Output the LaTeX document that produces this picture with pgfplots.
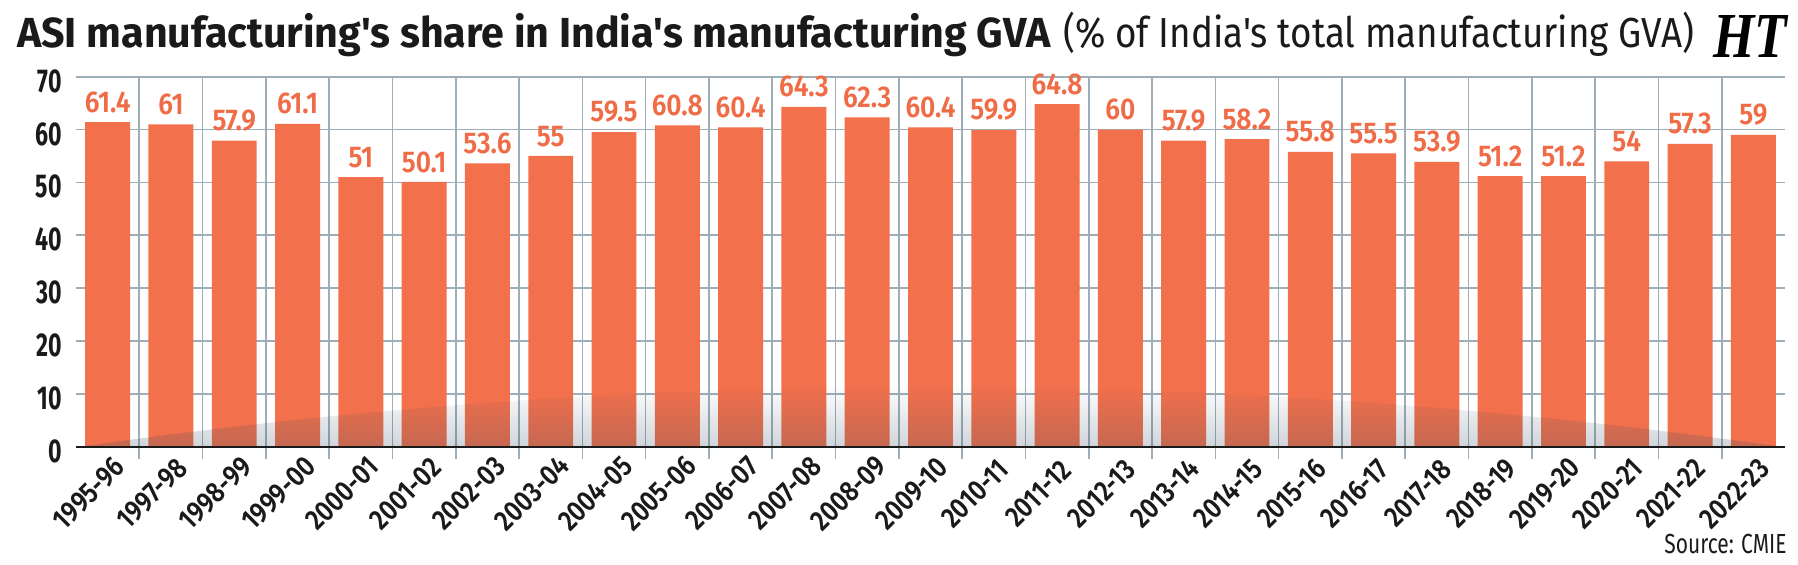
\documentclass[border=0pt]{standalone}
\usepackage{fontspec}
\setmainfont{Fira Sans}
\newfontfamily\titleboldfont{Fira Sans}[FakeStretch=0.98]
\newfontfamily\titleregfont{Fira Sans}[FakeStretch=0.876]
\newfontfamily\titlefont{Fira Sans}[FakeStretch=0.76]
\newfontfamily\tickfont{Fira Sans}[FakeStretch=0.70]
\newfontfamily\semifont{Fira Sans SemiBold}[FakeStretch=0.84]
\newfontfamily\valuefont{Fira Sans SemiBold}[FakeStretch=0.88]
\newfontfamily\logofont{Liberation Serif}
\usepackage{graphicx}
\usepackage{pgfplots}
\usepackage{pgfplotstable}
\pgfplotsset{compat=1.18}
\usetikzlibrary{fadings}

\definecolor{barorange}{HTML}{F2704C}
\definecolor{labelorange}{HTML}{EF6C47}
\definecolor{gridblue}{HTML}{9DAEB9}
\definecolor{shadow}{RGB}{60,80,100}
\definecolor{inkblack}{HTML}{1A1A1A}

\tikzfading[name=fadeup, top color=transparent!100, bottom color=transparent!0]

% ASI share of total manufacturing GVA, per cent
\pgfplotstableread{
idx share
0 61.4
1 61
2 57.9
3 61.1
4 51
5 50.1
6 53.6
7 55
8 59.5
9 60.8
10 60.4
11 64.3
12 62.3
13 60.4
14 59.9
15 64.8
16 60
17 57.9
18 58.2
19 55.8
20 55.5
21 53.9
22 51.2
23 51.2
24 54
25 57.3
26 59
}\sharetable

\begin{document}
\begin{tikzpicture}[x=1pt,y=1pt]
\path[use as bounding box] (0,0) rectangle (899,282);
\begin{axis}[
  at={(38pt,58.65pt)}, anchor=south west,
  scale only axis, width=854.5pt, height=185pt,
  xmin=-0.5, xmax=26.5, ymin=0, ymax=70,
  clip=false,
  axis line style={draw=none},
  /pgf/number format/assume math mode=true,
  ytick={0,10,...,70},
  ymajorgrids,
  major grid style={gridblue, line width=0.8pt},
  xtick={0,...,26},
  xticklabels={1995-96,1997-98,1998-99,1999-00,2000-01,2001-02,2002-03,2003-04,2004-05,2005-06,2006-07,2007-08,2008-09,2009-10,2010-11,2011-12,2012-13,2013-14,2014-15,2015-16,2016-17,2017-18,2018-19,2019-20,2020-21,2021-22,2022-23},
  major tick length=0pt,
  minor xtick={0.5,1.5,...,25.5},
  xminorgrids,
  minor grid style={gridblue, line width=0.8pt},
  minor tick length=6pt,
  tick align=outside,
  xtick pos=lower, ytick pos=left,
  minor tick style={gridblue, line width=0.8pt},
  yticklabel style={font=\tickfont\bfseries\fontsize{16.5}{16.5}\selectfont, text=inkblack, inner sep=0pt, anchor=east, xshift=-7pt, yshift=-2.2pt},
  xticklabel style={font=\semifont\fontsize{14.5}{14.5}\selectfont, text=inkblack, inner sep=0pt, anchor=center, xshift=-9.4pt, yshift=-23.4pt, rotate=45},
]
\addplot[ybar, bar width=0.71, fill=barorange, draw=none,
  nodes near coords,
  every node near coord/.append style={font=\valuefont\fontsize{15}{15}\selectfont, text=labelorange, anchor=south, inner sep=0pt, yshift=4.5pt}]
  table[x=idx, y=share]{\sharetable};

% soft shadow dome across the foot of the bars
\begin{scope}
  \clip (axis cs:-0.43,0) parabola bend (axis cs:13,11.4) (axis cs:26.43,0) -- cycle;
  \fill[shadow, fill opacity=0.32, path fading=fadeup] (axis cs:-0.5,-4) rectangle (axis cs:26.5,12);
\end{scope}
\draw[inkblack, line width=1.1pt] (axis cs:-0.5,0) -- (axis cs:26.5,0);
\end{axis}

\node[anchor=base west, inner sep=0pt, text=inkblack] at (8.35,258.15)
  {\titleboldfont\bfseries\fontsize{21}{21}\selectfont ASI manufacturing's share in India's manufacturing GVA};
\node[anchor=base west, inner sep=0pt, text=inkblack] at (531.35,258.15)
  {\titleregfont\fontsize{21}{21}\selectfont (\% of India's total manufacturing GVA)};
\node[anchor=center, inner sep=0pt] at (875,264) {\resizebox{37pt}{21pt}{\logofont\bfseries\itshape HT}};
\node[anchor=base east, inner sep=0pt, text=inkblack] at (893.5,5.35)
  {\titlefont\fontsize{13.8}{13.8}\selectfont Source: CMIE};
\end{tikzpicture}
\end{document}
